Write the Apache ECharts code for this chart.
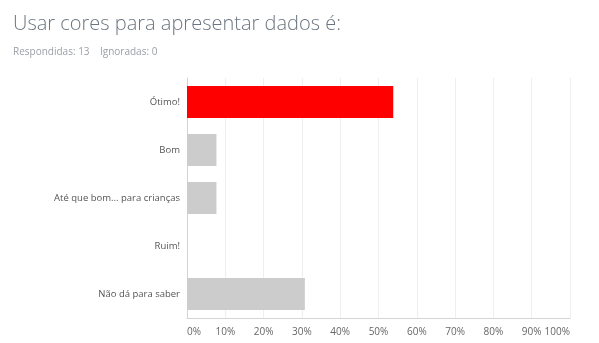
<!DOCTYPE html>
<html><head><meta charset="utf-8">
<script src="https://cdn.jsdelivr.net/npm/echarts@6/dist/echarts.min.js"></script>
<style>html,body{margin:0;padding:0;background:#fff}#c{width:599px;height:343px}</style>
</head><body><div id="c"></div>
<script>
const categories = ["Ótimo!", "Bom", "Até que bom... para crianças", "Ruim!", "Não dá para saber"];
const values = [53.85, 7.69, 7.69, 0, 30.77];
const barColors = ["#ff0000", "#cccccc", "#cccccc", "#cccccc", "#cccccc"];
const titleText = "Usar cores para apresentar dados é:";
const subtitleText = "Respondidas: 13    Ignoradas: 0";

const chart = echarts.init(document.getElementById('c'), null, {renderer: 'canvas'});
chart.setOption({
  animation: false,
  title: {
    text: titleText,
    subtext: subtitleText,
    left: 8, top: 9,
    itemGap: 13,
    textStyle: {fontFamily: 'Open Sans', fontWeight: 300, fontSize: 20, color: '#6b7580'},
    subtextStyle: {fontFamily: 'Open Sans', fontSize: 10, color: '#9aa0a6'}
  },
  grid: {left: 187, right: 29, top: 78, bottom: 25},
  xAxis: {
    type: 'value', min: 0, max: 100, interval: 10,
    axisLine: {show: true, lineStyle: {color: '#d4d4d4'}},
    axisTick: {show: false},
    splitLine: {show: true, lineStyle: {color: '#efefef', width: 1}},
    axisLabel: {formatter: '{value}%', color: '#666', fontFamily: 'Open Sans', fontSize: 10, margin: 9,
      alignMinLabel: 'left', alignMaxLabel: 'right'}
  },
  yAxis: {
    type: 'category', data: categories, inverse: true,
    axisLine: {show: true, lineStyle: {color: '#d4d4d4'}},
    axisTick: {show: false},
    axisLabel: {color: '#555', fontFamily: 'Open Sans', fontSize: 9.5, margin: 7}
  },
  series: [{
    type: 'bar',
    data: values.map((v, i) => ({value: v, itemStyle: {color: barColors[i]}})),
    barCategoryGap: '33%'
  }]
});
</script></body></html>
